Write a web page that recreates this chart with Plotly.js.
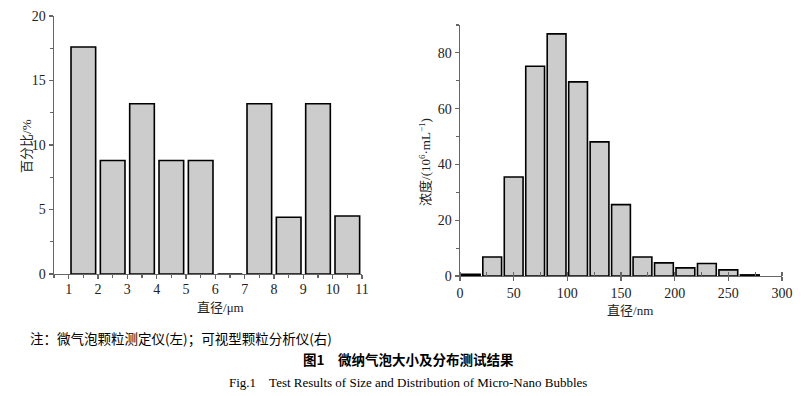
<!DOCTYPE html>
<html><head><meta charset="utf-8">
<script src="https://cdn.plot.ly/plotly-3.0.1.min.js"></script>
<style>html,body{margin:0;padding:0;background:#fff}#c{width:808px;height:396px}</style>
</head><body><div id="c"></div>
<script>
// Left chart: micro bubble size distribution (percentage)
const microCenters = [1.5, 2.5, 3.5, 4.5, 5.5, 6.5, 7.5, 8.5, 9.5, 10.5];
const microPercent = [17.6, 8.8, 13.2, 8.8, 8.8, 0, 13.2, 4.4, 13.2, 4.5];
const microTicks = [1, 2, 3, 4, 5, 6, 7, 8, 9, 10, 11];

// Right chart: nano bubble concentration (10^6/mL)
const nanoCenters = [10, 30, 50, 70, 90, 110, 130, 150, 170, 190, 210, 230, 250, 270];
const nanoConc = [0.6, 6.8, 35.5, 75.2, 86.8, 69.6, 48.1, 25.6, 6.8, 4.7, 2.9, 4.5, 2.2, 0.4];

const SERIF = '"Liberation Serif", "Times New Roman", serif';
const CJK = 'Noto Sans CJK SC';
const tickFont = {family: SERIF, size: 14, color: '#222'};
const barStyle = {color: '#cccccc', line: {color: '#000', width: 1.6}};

const traces = [
  {type: 'bar', x: microCenters, y: microPercent, width: 0.84, marker: barStyle, xaxis: 'x', yaxis: 'y', hoverinfo: 'none'},
  {type: 'bar', x: nanoCenters, y: nanoConc, width: 17.5, marker: barStyle, xaxis: 'x2', yaxis: 'y2', hoverinfo: 'none'}
];

const axBase = {
  showgrid: false, zeroline: false, showline: true, linecolor: '#666', linewidth: 1.4,
  ticks: 'outside', ticklen: 4, tickcolor: '#666', tickwidth: 1.2, tickfont: tickFont,
  fixedrange: true
};

function ann(text, x, y, size, family, extra) {
  return Object.assign({text: text, x: x/808, y: 1 - y/396, xref: 'paper', yref: 'paper',
    xanchor: 'center', yanchor: 'middle', showarrow: false,
    font: {family: family, size: size, color: '#222'}}, extra || {});
}
const sf = s => '<span style="font-family:Liberation Serif">' + s + '</span>';

const layout = {
  width: 808, height: 396, margin: {l: 0, r: 0, t: 0, b: 0},
  paper_bgcolor: '#fff', plot_bgcolor: '#fff', showlegend: false,
  font: {family: SERIF, size: 14, color: '#222'},
  bargap: 0,
  xaxis: Object.assign({}, axBase, {domain: [54/808, 362/808], range: [0.5, 11], tickvals: microTicks,
    ticklabelstandoff: -2,
    minor: {dtick: 0.5, tick0: 0.5, ticks: 'outside', ticklen: 3, tickcolor: '#666'}, anchor: 'y'}),
  yaxis: Object.assign({}, axBase, {domain: [1 - 274/396, 1 - 16/396], range: [0, 20], dtick: 5,
    minor: {dtick: 2.5, ticks: 'outside', ticklen: 3, tickcolor: '#666'}, anchor: 'x'}),
  xaxis2: Object.assign({}, axBase, {domain: [460/808, 782/808], range: [0, 300], dtick: 50,
    minor: {dtick: 25, ticks: 'inside', ticklen: 4, tickcolor: '#666'}, anchor: 'y2'}),
  yaxis2: Object.assign({}, axBase, {domain: [1 - 276/396, 1 - 25/396], range: [0, 90], tickvals: [0, 20, 40, 60, 80],
    minor: {tickvals: [10, 30, 50, 70, 90], ticks: 'outside', ticklen: 3, tickcolor: '#666'}, anchor: 'x2'}),
  annotations: [
    ann('百分比' + sf('/%'), 25, 146, 13, CJK, {textangle: -90}),
    ann('直径' + sf('/μm'), 220, 306, 13, CJK),
    ann('浓度' + sf('/(10<sup>6</sup>·mL<sup>−1</sup>)'), 424, 162, 13, CJK, {textangle: -90}),
    ann('直径' + sf('/nm'), 630, 309, 13, CJK),
    ann('注：微气泡颗粒测定仪(左)；可视型颗粒分析仪(右)', 28, 338, 13.5, CJK, {xanchor: 'left', font: {family: CJK, size: 13.5, color: '#000'}}),
    ann('<b>图1　微纳气泡大小及分布测试结果</b>', 408, 359, 13.5, CJK, {font: {family: CJK, size: 13.5, color: '#000'}}),
    ann('Fig.1　Test Results of Size and Distribution of Micro-Nano Bubbles', 408, 382, 13, SERIF, {font: {family: SERIF, size: 13, color: '#000'}})
  ]
};

Plotly.newPlot('c', traces, layout, {staticPlot: true});
</script></body></html>
